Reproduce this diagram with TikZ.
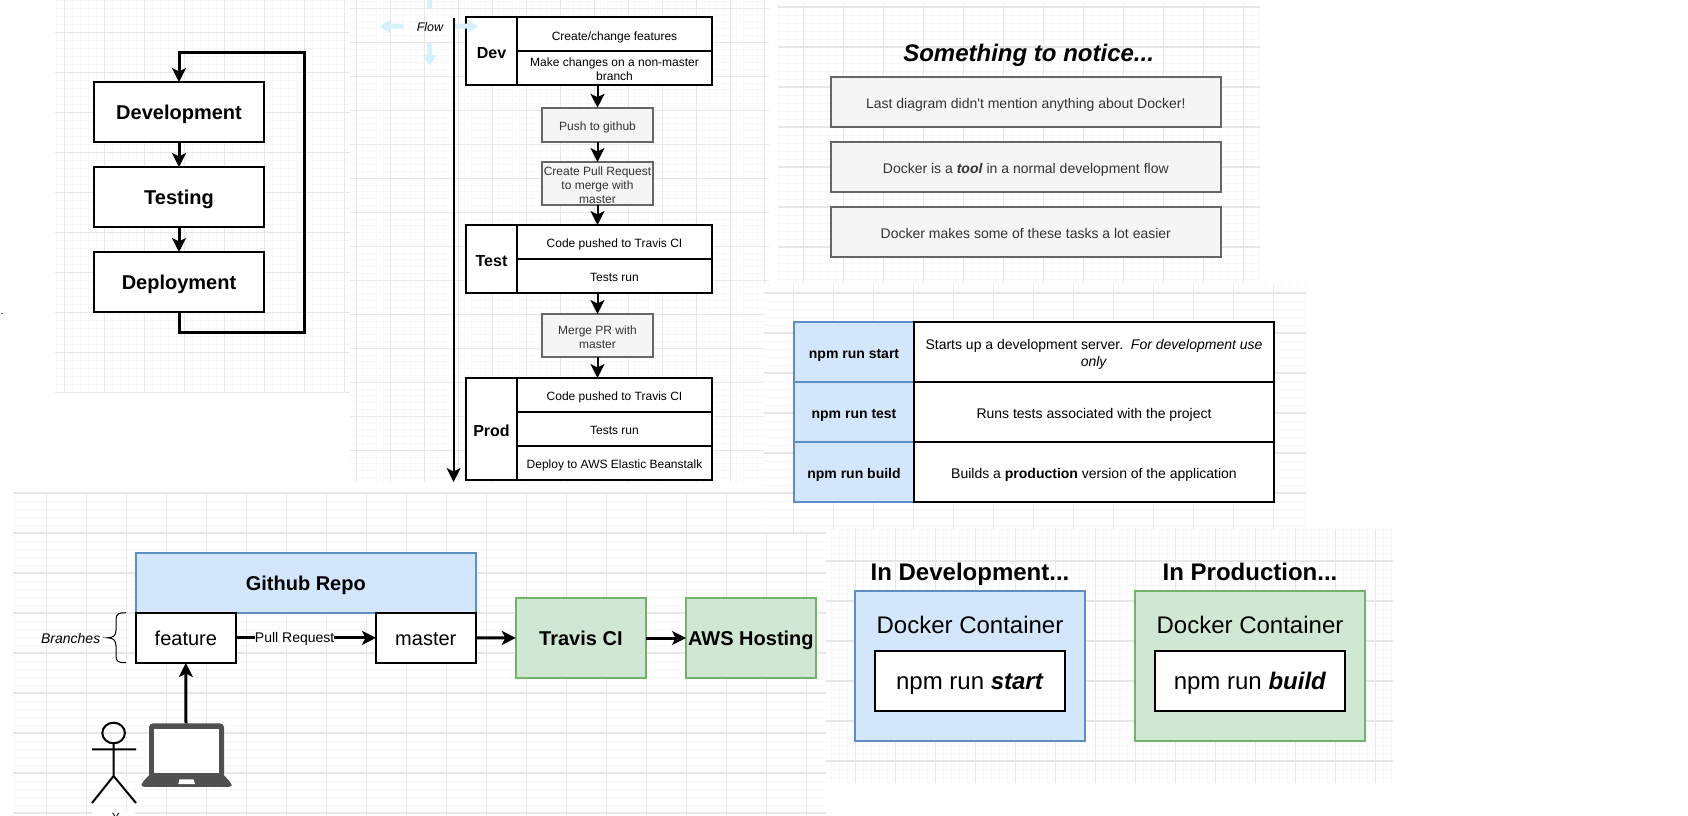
\documentclass[tikz,border=0pt]{standalone}
\usepackage{fontspec}
\setmainfont{Liberation Sans}[Ligatures=TeXOff]
\usetikzlibrary{arrows.meta}
\definecolor{gmajor}{HTML}{E7E7E7}
\definecolor{gminor}{HTML}{F8F8F8}
\definecolor{bluefill}{HTML}{D4E6FC}
\definecolor{bluedraw}{HTML}{5F8FC2}
\definecolor{greenfill}{HTML}{D0E8D3}
\definecolor{greendraw}{HTML}{72B36C}
\definecolor{greyfill}{HTML}{F5F5F5}
\definecolor{greydraw}{HTML}{666666}
\definecolor{greytext}{HTML}{333333}
\definecolor{flowblue}{HTML}{D6F1FB}
\definecolor{lapcol}{HTML}{505050}
\tikzset{
  t12/.style={font=\fontsize{12}{14}\selectfont},
  t14/.style={font=\fontsize{14}{16.5}\selectfont},
  t16/.style={font=\fontsize{16}{19}\selectfont\bfseries},
  t20/.style={font=\fontsize{20}{23}\selectfont},
  t20b/.style={font=\fontsize{20}{23}\selectfont\bfseries},
  t24/.style={font=\fontsize{24}{28}\selectfont},
  t24b/.style={font=\fontsize{24}{28}\selectfont\bfseries},
  basenostrut/.style={inner sep=0pt,outer sep=0pt,align=center,text=black},
  base/.style={basenostrut,execute at begin node=\strut,execute at end node=\strut},
  whitebox/.style={base,draw=black,fill=white,line width=2pt},
  greybox/.style={base,draw=greydraw,fill=greyfill,line width=2pt,text=greytext},
  bluebox/.style={base,draw=bluedraw,fill=bluefill,line width=2pt},
  greenbox/.style={base,draw=greendraw,fill=greenfill,line width=2pt},
  cell/.style={base,draw=black,fill=none,line width=2pt},
  plain/.style={base},
  tip/.style={-{Stealth[length=14pt,width=14pt,inset=3.5pt]}},
  thinconn/.style={tip,line width=2pt,draw=black},
  thickconn/.style={tip,line width=3pt,draw=black},
  flowarrow/.style={fill=flowblue,draw=none},
}
\def\tdrop{3.3}
\newcommand\pbox[7]{%
  \node[#6,minimum width={(#4-#2)*1pt},minimum height={(#5-#3)*1pt}] (#1)
    at ({(#2+#4)/2},{(#3+#5)/2}) {};%
  \if\relax\detokenize{#7}\relax\else
  \node[#6,draw=none,fill=none] (#1text) at ({(#2+#4)/2},{(#3+#5)/2+\tdrop}) {#7};%
  \fi}
% x1 y1 x2 y2 xmajor0 ymajor0 spacing
\newcommand\gridpanel[7]{%
  \begin{scope}
    \clip (#1,#2) rectangle (#3,#4);
    \fill[white] (#1,#2) rectangle (#3,#4);
    \pgfmathtruncatemacro\nx{(#3-#5)*5/#7+1}
    \pgfmathtruncatemacro\ny{(#4-#6)*5/#7+1}
    \foreach \i in {0,...,\nx}{%
      \pgfmathtruncatemacro\rem{mod(\i,5)}
      \ifnum\rem=0\else
      \pgfmathsetmacro\pos{#5+\i*#7/5}
      \draw[gminor,line width=1pt] (\pos,#2) -- (\pos,#4);\fi}
    \foreach \i in {0,...,\ny}{%
      \pgfmathtruncatemacro\rem{mod(\i,5)}
      \ifnum\rem=0\else
      \pgfmathsetmacro\pos{#6+\i*#7/5}
      \draw[gminor,line width=1pt] (#1,\pos) -- (#3,\pos);\fi}
    \foreach \i in {0,...,\nx}{%
      \pgfmathtruncatemacro\rem{mod(\i,5)}
      \ifnum\rem=0
      \pgfmathsetmacro\pos{#5+\i*#7/5}
      \draw[gmajor,line width=1pt] (\pos,#2) -- (\pos,#4);\fi}
    \foreach \i in {0,...,\ny}{%
      \pgfmathtruncatemacro\rem{mod(\i,5)}
      \ifnum\rem=0
      \pgfmathsetmacro\pos{#6+\i*#7/5}
      \draw[gmajor,line width=1.2pt] (#1,\pos) -- (#3,\pos);\fi}
  \end{scope}}
\begin{document}
\begin{tikzpicture}[x=1pt,y=-1pt]
\useasboundingbox (0,0) rectangle (1688,815);
\clip (0,0) rectangle (1688,815);
\fill[white] (0,0) rectangle (1688,815);
% background grids
\gridpanel{55}{0}{350}{393}{24}{-7.7}{40}
\gridpanel{350}{0}{769}{482}{322}{-25.7}{34}
\gridpanel{778}{4}{1260}{284}{763.7}{7}{40}
\gridpanel{13}{492}{826}{815}{6.6}{493}{40}
\gridpanel{764}{284}{1306}{533}{753.5}{293}{40}
\gridpanel{826}{529}{1393}{783}{815.5}{521}{40}
% stray dot
\fill[blue!70] (1,312.5) rectangle (2.5,314);

% --- cycle
\pbox{development}{94}{82}{264}{142}{whitebox,t20b}{Development}
\pbox{testing}{94}{167}{264}{227}{whitebox,t20b}{Testing}
\pbox{deployment}{94}{252}{264}{312}{whitebox,t20b}{Deployment}
\coordinate (loopA) at (304.6,332);
\coordinate (loopB) at (304.6,52.3);
\draw[thickconn] (development) -- (testing);
\draw[thickconn] (testing) -- (deployment);
\draw[thickconn] (deployment.south) -- (deployment.south |- loopA) -- (loopA) -- (loopB) -- (development.north |- loopB) -- (development.north);

% --- flow lanes
\pbox{dev}{466}{17}{712}{85}{whitebox}{}
\pbox{devtitle}{466}{17}{517}{85}{cell,t16}{Dev}
\pbox{dev1}{517}{17}{712}{51}{cell,t12}{Create/change features}
\pbox{dev2}{517}{51}{712}{85}{cell,t12}{Make changes on a non-master\\branch}
\pbox{push}{542}{107.7}{653}{142}{greybox,t12}{Push to github}
\pbox{pr}{542}{162}{653}{205}{greybox,t12}{Create Pull Request\\to merge with\\master}
\pbox{test}{466}{225}{712}{293}{whitebox}{}
\pbox{testtitle}{466}{225}{517}{293}{cell,t16}{Test}
\pbox{test1}{517}{225}{712}{258.7}{cell,t12}{Code pushed to Travis CI}
\pbox{test2}{517}{258.7}{712}{293}{cell,t12}{Tests run}
\pbox{merge}{542}{314}{653}{357}{greybox,t12}{Merge PR with\\master}
\pbox{prod}{466}{378}{712}{480}{whitebox}{}
\pbox{prodtitle}{466}{378}{517}{480}{cell,t16}{Prod}
\pbox{prod1}{517}{378}{712}{411.7}{cell,t12}{Code pushed to Travis CI}
\pbox{prod2}{517}{411.7}{712}{445.7}{cell,t12}{Tests run}
\pbox{prod3}{517}{445.7}{712}{480}{cell,t12}{Deploy to AWS Elastic Beanstalk}
\draw[thinconn] (push.north |- dev.south) -- (push.north);
\draw[thinconn] (push) -- (pr);
\draw[thinconn] (pr.south) -- (pr.south |- test.north);
\draw[thinconn] (merge.north |- test.south) -- (merge.north);
\draw[thinconn] (merge.south) -- (merge.south |- prod.north);
% faded direction arrows
\fill[flowarrow] (403.3,23.7) -- (390,23.7) -- (390,20) -- (380,26.2) -- (390,33) -- (390,28.7) -- (403.3,28.7) -- cycle;
\fill[flowarrow] (453,23.7) -- (468,23.7) -- (468,20) -- (477.7,26.2) -- (468,33) -- (468,28.7) -- (453,28.7) -- cycle;
\fill[flowarrow] (427,42.7) -- (427,55) -- (422.7,55) -- (429.7,65.7) -- (436.7,55) -- (432,55) -- (432,42.7) -- cycle;
\fill[flowarrow] (427,0) rectangle (432,8);
\node[plain,font=\fontsize{12.5}{14}\selectfont\itshape] (flow) at (430,28.7) {Flow};
\coordinate (flowstart) at (453.6,18);
\coordinate (flowend) at (453.6,482);
\draw[thinconn] (flowstart) -- (flowend);

% --- something to notice
\node[plain,font=\fontsize{24}{28}\selectfont\bfseries\itshape] (notice) at (1028.6,56.3) {Something to notice...};
\pbox{n1}{830.6}{77}{1221}{127}{greybox,t14}{Last diagram didn't mention anything about Docker!}
\pbox{n2}{830.6}{142}{1221}{191.8}{greybox,t14}{Docker is a \textbf{\textit{tool}} in a normal development flow}
\pbox{n3}{830.6}{207}{1221}{257}{greybox,t14}{Docker makes some of these tasks a lot easier}

% --- table
\pbox{c1}{794}{322}{914}{382}{bluebox,t14}{\textbf{npm run start}}
\pbox{c2}{794}{382}{914}{442}{bluebox,t14}{\textbf{npm run test}}
\pbox{c3}{794}{442}{914}{502}{bluebox,t14}{\textbf{npm run build}}
\pbox{d1}{914}{322}{1274}{382}{whitebox,t14}{Starts up a development server.~~\textit{For development use}\\\textit{only}}
\pbox{d2}{914}{382}{1274}{442}{whitebox,t14}{Runs tests associated with the project}
\pbox{d3}{914}{442}{1274}{502}{whitebox,t14}{Builds a \textbf{production} version of the application}

% --- pipeline
\pbox{repo}{136}{552.7}{475.6}{612.7}{bluebox,t20b}{Github Repo}
\pbox{feature}{136}{612.7}{235.7}{663}{whitebox,t20}{feature}
\pbox{master}{376}{612.7}{475.6}{663}{whitebox,t20}{master}
\pbox{travis}{515.8}{598}{646}{678}{greenbox,t20b}{Travis CI}
\pbox{aws}{686}{598}{815.8}{678}{greenbox,t20b}{AWS Hosting}
\draw[thickconn] (feature) -- node[basenostrut,t14,fill=white,pos=0.42,text height=12pt,text depth=3pt] (pullreq) {Pull Request} (master);
\draw[thickconn] (master) -- (travis);
\draw[thickconn] (travis) -- (aws);
\node[plain,font=\fontsize{14}{16.5}\selectfont\itshape] (branches) at (70.7,640) {Branches};
% brace
\draw[black,line width=1pt] (126,612.7) .. controls (119,612.7) and (116,613.5) .. (116,620) -- (116,630) .. controls (116,636) and (113,637.8) .. (107.3,637.8) .. controls (113,637.8) and (116,640) .. (116,646) -- (116,656) .. controls (116,662) and (119,662.7) .. (126,662.7);
% laptop
\fill[lapcol,rounded corners=2.5pt] (150,774) -- (223,774) -- (231.5,783.5) -- (231.5,786.8) -- (141.5,786.8) -- (141.5,783.5) -- cycle;
\fill[lapcol,rounded corners=4pt] (149,723.3) rectangle (224,778);
\fill[white] (153.7,729) rectangle (219.3,773.3);
\fill[white] (179.5,779.3) -- (193.5,779.3) -- (195,784) -- (178.3,784) -- cycle;
\coordinate (laptoptop) at (186,723.3);
\draw[thickconn] (laptoptop) -- (feature.south);
% actor
\draw[black,line width=2pt] (113.6,733) ellipse [x radius=11.3,y radius=10.3];
\draw[black,line width=2pt] (113.6,743.3) -- (113.6,776) (92,749.3) -- (136,749.3) (92,803) -- (113.6,776) -- (136,803);
\fill[white] (92,811) rectangle (135,815);
\node[plain,anchor=base,t12] (you) at (116,821.6) {Y};

% --- containers
\node[plain,t24b] (indev) at (970,574.9) {In Development...};
\node[plain,t24b] (inprod) at (1250,574.9) {In Production...};
\pbox{devbox}{855}{591}{1085}{741}{bluebox}{}
\pbox{prodbox}{1135}{591}{1365}{741}{greenbox}{}
\node[plain,t24] (dc1) at (970,628.2) {Docker Container};
\node[plain,t24] (dc2) at (1250,628.2) {Docker Container};
\pbox{startbox}{874.7}{650.7}{1065}{711}{whitebox,t24}{npm run \textbf{\textit{start}}}
\pbox{buildbox}{1155}{650.7}{1345}{711}{whitebox,t24}{npm run \textbf{\textit{build}}}
\end{tikzpicture}
\end{document}
